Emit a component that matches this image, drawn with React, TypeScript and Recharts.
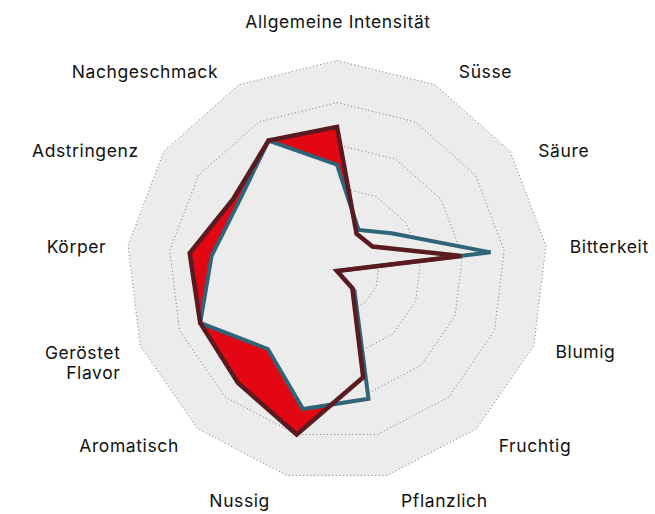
import { PolarAngleAxis, PolarGrid, PolarRadiusAxis, Radar, RadarChart } from "recharts";

const attributes = [
  "Allgemeine Intensität",
  "Süsse",
  "Säure",
  "Bitterkeit",
  "Blumig",
  "Fruchtig",
  "Pflanzlich",
  "Nussig",
  "Aromatisch",
  "Geröstet Flavor",
  "Körper",
  "Adstringenz",
  "Nachgeschmack",
];

// maroon outline, red fill
const sampleA = [6.85, 2.0, 2.05, 5.95, 0, 1.1, 5.2, 8.0, 7.1, 6.95, 7.05, 6.0, 7.0];
// blue outline
const sampleB = [5.05, 2.2, 3.15, 7.35, 0, 1.25, 6.25, 6.75, 4.95, 6.95, 6.0, 5.7, 7.0];

const scaleTicks = [0, 2, 4, 6, 8, 10];

const data = attributes.map((name, i) => ({
  name,
  a: sampleA[i],
  b: sampleB[i],
}));

// label nudges per axis: [dx, dy]
const labelShift: [number, number][] = [
  [1, -11],
  [11, 11.5],
  [5, 15],
  [-4, 4],
  [-4.5, -4.5],
  [3.5, -4],
  [7, -2],
  [-10, -2],
  [0, -4],
  [6.5, -4],
  [6, 4],
  [-2, 15],
  [-8, 11.5],
];

const BG = "#ececec";
const RED = "#e30613";
const MAROON = "#5a1b20";
const BLUE = "#2f6479";

function AxisLabel(props: any) {
  const { x, y, index, payload } = props;
  const [dx, dy] = labelShift[index] ?? [0, 0];
  const anchor = index === 0 ? "middle" : index <= 6 ? "start" : "end";
  const lines = String(payload.value).split(" ");
  const multi = payload.value === "Geröstet Flavor";
  return (
    <text
      x={x + dx}
      y={y + dy}
      textAnchor={anchor}
      dominantBaseline="central"
      fontFamily="Inter, 'Noto Sans', sans-serif"
      fontSize={17.5}
      letterSpacing={0.6}
      fill="#111"
    >
      {multi
        ? lines.map((l, k) => (
            <tspan key={l} x={x + dx} dy={k === 0 ? 0 : 20}>
              {l}
            </tspan>
          ))
        : payload.value}
    </text>
  );
}

export default function App() {
  return (
    <div style={{ position: "absolute", left: 0, top: 0, background: "#fff" }}>
      <RadarChart
        width={655}
        height={514}
        data={data}
        cx={337}
        cy={271}
        outerRadius={210.5}
        startAngle={90}
        endAngle={-270}
        margin={{ top: 0, right: 0, bottom: 0, left: 0 }}
      >
        <PolarGrid gridType="polygon" radialLines={false} stroke="none" fill={BG} fillOpacity={1} />
        <PolarRadiusAxis domain={[0, 10]} ticks={scaleTicks as any} tick={false} axisLine={false} />
        <PolarAngleAxis
          dataKey="name"
          tickLine={false}
          axisLine={false}
          tickSize={28}
          tick={<AxisLabel />}
        />
        <Radar dataKey="a" stroke="none" fill={RED} fillOpacity={1} isAnimationActive={false} />
        <Radar dataKey="b" stroke="none" fill={BG} fillOpacity={1} isAnimationActive={false} />
        <PolarGrid
          gridType="polygon"
          radialLines={false}
          stroke="#7a7a7a"
          strokeDasharray="1 2.6"
          strokeWidth={1}
        />
        <Radar dataKey="b" stroke={BLUE} strokeWidth={4} fill="none" isAnimationActive={false} />
        <Radar dataKey="a" stroke={MAROON} strokeWidth={4.5} fill="none" isAnimationActive={false} />
      </RadarChart>
    </div>
  );
}
